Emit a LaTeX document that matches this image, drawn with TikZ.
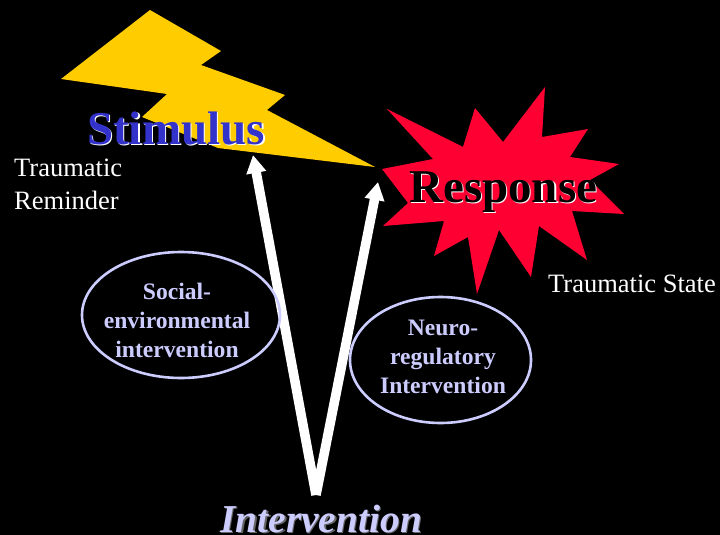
\documentclass[tikz,border=0pt]{standalone}
\usepackage{fontspec}
\setmainfont{Liberation Serif}
\usetikzlibrary{arrows.meta,shapes.geometric}
\definecolor{boltyellow}{RGB}{255,204,0}
\definecolor{burstred}{RGB}{255,0,51}
\definecolor{stimblue}{RGB}{51,51,204}
\definecolor{paleblue}{RGB}{204,204,255}
\newcommand{\shadowed}[3]{\leavevmode\rlap{\kern1.5pt\raisebox{-1.5pt}{\color{#1}#3}}{\color{#2}#3}}

\begin{document}
\begin{tikzpicture}[x=1pt,y=-1pt,>={Triangle[length=18pt,width=19pt]}]
\tikzset{title/.style = {anchor=base west,inner sep=0pt,font=\fontsize{47}{47}\selectfont\bfseries},
  note/.style = {anchor=base west,inner sep=0pt,align=left,text=white,font=\fontsize{26.5}{32.5}\selectfont},
  oval/.style = {shape=ellipse,draw=paleblue,line width=2.6pt,inner sep=0pt},
  ovaltext/.style = {inner sep=0pt,align=center,text=paleblue,font=\fontsize{23.6}{29}\selectfont\bfseries},
  shaft/.style = {->,white,line width=9.5pt}}

\path[fill=black,use as bounding box] (0,0) rectangle (720,535);

%shapes
\fill[boltyellow] (150,10) -- (221,51) -- (201,65) -- (285,95) -- (267,110) -- (375,167)
  -- (218,148) -- (142,117) -- (167,94) -- (61,79) -- cycle;
\fill[burstred] (545,87) -- (542,137) -- (588,129) -- (570,157) -- (619,164) -- (590,180)
  -- (624,214) -- (572,211) -- (587,260) -- (539,226) -- (531,277) -- (499,230)
  -- (477,294) -- (468,237) -- (434,256) -- (444,221) -- (383,226) -- (408,203)
  -- (382,169) -- (433,159) -- (387,109) -- (463,147) -- (475,108) -- (503,142) -- cycle;

%arrows
\coordinate (base) at (316,495);
\coordinate (stimtip) at (253,155);
\coordinate (resptip) at (378,182);
\draw[shaft] (base) -- (stimtip);
\draw[shaft] (base) -- (resptip);

%ovals
\node[oval,minimum width=198pt,minimum height=126pt] (social) at (181,315) {};
\node[oval,minimum width=181pt,minimum height=126pt] (neuro) at (440.5,360) {};

%labels
\node[title] (stimulus) at (87,144) {\shadowed{white}{stimblue}{Stimulus}};
\node[title] (response) at (409,202) {\shadowed{white}{black}{Response}};
\node[note] (reminder) at (14,209) {Traumatic\\Reminder};
\node[note] (state) at (548,292) {Traumatic State};
\node[ovaltext] (socialtext) at (177,320) {Social-\\environmental\\intervention};
\node[ovaltext] (neurotext) at (443,357) {Neuro-\\regulatory\\Intervention};
\node[anchor=base west,inner sep=0pt,font=\fontsize{39.5}{40}\selectfont\bfseries\itshape] (intervention) at (220,532)
  {\shadowed{black!60!white}{paleblue}{Intervention}};
\end{tikzpicture}
\end{document}
